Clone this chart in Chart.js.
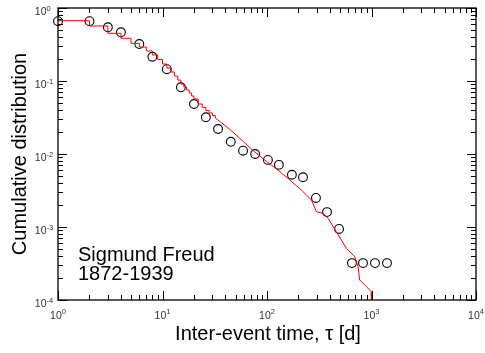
<!DOCTYPE html>
<html><head><meta charset="utf-8">
<script src="https://cdn.jsdelivr.net/npm/chart.js@4.4.1/dist/chart.umd.min.js"></script>
<style>html,body{margin:0;padding:0;background:#fff}</style>
</head><body>
<canvas id="c" width="485" height="353"></canvas>
<script>
// Log-binned cumulative distribution (circles)
const binX = [1, 2, 3, 4, 6, 8, 11, 15, 20, 26, 34, 45, 59, 77, 102, 130, 173, 221, 294, 375, 489, 650, 829, 1080, 1407];
const binY = [0.66, 0.66, 0.544, 0.465, 0.321, 0.215, 0.145, 0.082, 0.0484, 0.0318, 0.022, 0.0147, 0.0111, 0.0100, 0.0083, 0.0071, 0.0052, 0.0048, 0.0025, 0.0016, 0.00094, 0.00032, 0.00032, 0.00032, 0.00032];
// Raw cumulative distribution (red staircase, short intervals)
const stepX = [1, 2, 3, 4, 5, 6, 7, 8, 9, 10, 11, 12, 13, 14, 15, 16, 17, 18, 19, 20, 22, 24, 26, 28, 30, 32];
const stepY = [0.670, 0.567, 0.450, 0.385, 0.328, 0.292, 0.258, 0.227, 0.197, 0.171, 0.151, 0.133, 0.117, 0.103, 0.091, 0.0828, 0.0753, 0.0685, 0.0623, 0.0567, 0.0484, 0.0434, 0.0394, 0.0365, 0.0337, 0.0311];
// Raw cumulative distribution (red line, long intervals)
const tailX = [32, 36.6, 45.6, 65.8, 76.2, 95, 127, 165, 213, 266, 297, 344, 384, 461, 575, 691, 743, 771, 894, 998, 998];
const tailY = [0.0311, 0.0269, 0.0209, 0.0129, 0.0107, 0.00828, 0.00604, 0.00441, 0.00321, 0.00235, 0.00162, 0.00154, 0.00132, 0.000863, 0.000511, 0.000392, 0.000286, 0.000188, 0.000152, 0.000130, 0.0001];
// Axis ticks
const xTickValues = [1, 10, 100, 1000, 10000];
const xTickExp = ['0', '1', '2', '3', '4'];
const yTickValues = [1, 0.1, 0.01, 0.001, 0.0001];
const yTickExp = ['0', '-1', '-2', '-3', '-4'];
const xTitle = 'Inter-event time, \u03c4 [d]';
const yTitle = 'Cumulative distribution';
const annotLines = ['Sigmund Freud', '1872-1939'];

const pts = (xs, ys) => xs.map((x, i) => ({x: x, y: ys[i]}));
const FONT = "'Liberation Sans', Arial, Helvetica, sans-serif";

const framePlugin = {
  id: 'frame',
  afterDraw(chart) {
    const ctx = chart.ctx, a = chart.chartArea;
    const xs = chart.scales.x, ys = chart.scales.y;
    ctx.save();
    ctx.strokeStyle = '#000';
    ctx.lineWidth = 1;
    // minor + major ticks
    const drawX = (v, len) => {
      const p = Math.round(xs.getPixelForValue(v)) + 0.5;
      ctx.beginPath();
      ctx.moveTo(p, a.bottom); ctx.lineTo(p, a.bottom - len);
      ctx.moveTo(p, a.top); ctx.lineTo(p, a.top + len);
      ctx.stroke();
    };
    const drawY = (v, len) => {
      const p = Math.round(ys.getPixelForValue(v)) + 0.5;
      ctx.beginPath();
      ctx.moveTo(a.left, p); ctx.lineTo(a.left + len, p);
      ctx.moveTo(a.right, p); ctx.lineTo(a.right - len, p);
      ctx.stroke();
    };
    for (let d = 0; d < 4; d++) {
      for (let m = 2; m <= 9; m++) drawX(m * Math.pow(10, d), 5);
    }
    xTickValues.forEach(v => drawX(v, 9));
    for (let d = -4; d < 0; d++) {
      for (let m = 2; m <= 9; m++) drawY(m * Math.pow(10, d), 5);
    }
    yTickValues.forEach(v => drawY(v, 9));
    // frame
    ctx.lineWidth = 1.3;
    ctx.strokeRect(a.left, a.top, a.right - a.left, a.bottom - a.top);

    // tick labels
    ctx.fillStyle = '#333';
    ctx.textBaseline = 'alphabetic';
    const bigF = '10.5px ' + FONT, smallF = '7.5px ' + FONT;
    xTickValues.forEach((v, i) => {
      const p = xs.getPixelForValue(v);
      ctx.font = bigF; const w1 = ctx.measureText('10').width;
      ctx.font = smallF; const w2 = ctx.measureText(xTickExp[i]).width;
      const start = p - (w1 + w2) / 2;
      ctx.textAlign = 'left';
      ctx.font = bigF; ctx.fillText('10', start, a.bottom + 18.5);
      ctx.font = smallF; ctx.fillText(xTickExp[i], start + w1, a.bottom + 13.5);
    });
    yTickValues.forEach((v, i) => {
      const p = ys.getPixelForValue(v);
      ctx.font = bigF; ctx.textAlign = 'right';
      ctx.fillText('10', a.left - 11.5, p + 7);
      ctx.font = smallF; ctx.textAlign = 'left';
      ctx.fillText(yTickExp[i], a.left - 11.5, p + 2.5);
    });

    // axis titles
    ctx.fillStyle = '#000';
    ctx.font = '20px ' + FONT;
    ctx.textAlign = 'center';
    ctx.fillText(xTitle, (a.left + a.right) / 2 + 1, 340);
    ctx.save();
    ctx.translate(26, (a.top + a.bottom) / 2);
    ctx.rotate(-Math.PI / 2);
    ctx.fillText(yTitle, 0, 0);
    ctx.restore();

    // annotation
    ctx.textAlign = 'left';
    ctx.fillText(annotLines[0], 78, 260.5);
    ctx.fillText(annotLines[1], 78, 280);
    ctx.restore();
  }
};

new Chart(document.getElementById('c'), {
  type: 'scatter',
  data: {
    datasets: [
      {
        data: pts(stepX, stepY), showLine: true, stepped: true,
        borderColor: '#ff0000', borderWidth: 1, pointRadius: 0, fill: false, clip: false
      },
      {
        data: pts(tailX, tailY), showLine: true, stepped: false, tension: 0,
        borderColor: '#ff0000', borderWidth: 1, pointRadius: 0, fill: false, clip: false
      },
      {
        data: pts(binX, binY), showLine: false,
        pointRadius: 4.4, pointBorderWidth: 1.1, pointBorderColor: '#000',
        pointBackgroundColor: 'rgba(0,0,0,0)', clip: false
      }
    ]
  },
  options: {
    responsive: false,
    animation: false,
    devicePixelRatio: 1,
    layout: { padding: { left: 58, right: 9, top: 8, bottom: 53 } },
    plugins: { legend: { display: false }, tooltip: { enabled: false } },
    scales: {
      x: { type: 'logarithmic', min: 1, max: 10000, display: false },
      y: { type: 'logarithmic', min: 0.0001, max: 1, display: false }
    }
  },
  plugins: [framePlugin]
});
</script>
</body></html>
